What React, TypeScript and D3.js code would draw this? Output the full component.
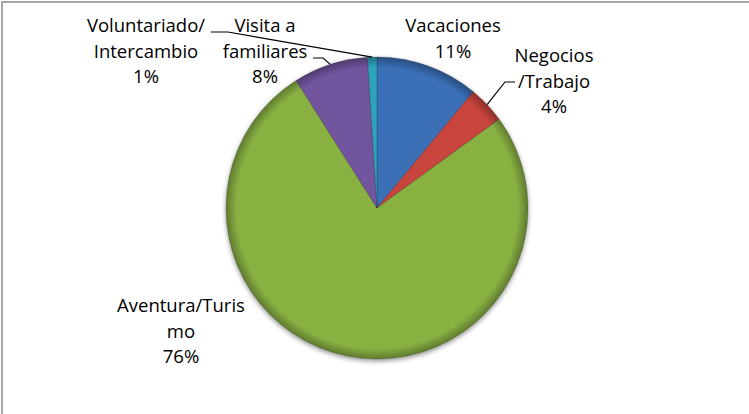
import React from 'react';
import * as d3 from 'd3';

// data
const categories = ['Vacaciones', 'Negocios /Trabajo', 'Aventura/Turismo', 'Visita a familiares', 'Voluntariado/ Intercambio'];
const values = [11, 4, 76, 8, 1];
const labelLines = [
  ['Vacaciones'],
  ['Negocios', '/Trabajo'],
  ['Aventura/Turis', 'mo'],
  ['Visita a', 'familiares'],
  ['Voluntariado/', 'Intercambio'],
];
const colors = ['#3a6fb6', '#c8443d', '#89b143', '#72559f', '#2fa3bd'];

const W = 749;
const H = 414;
const cx = 377;
const cy = 208;
const R = 151;
const lineH = 25.5;

// label layout: centre x and first baseline for each label block
const labelPos = [
  { x: 453, y: 32 },
  { x: 554, y: 62 },
  { x: 181, y: 312 },
  { x: 265, y: 32 },
  { x: 146, y: 32 },
];
// leader lines: [start of horizontal stub, elbow] (null = no leader)
const leaders: ([number, number][] | null)[] = [
  null,
  [[515, 82], [505, 82]],
  null,
  [[313, 58], [323, 58]],
  [[211, 32], [228, 32]],
];

const App = () => {
  const total = d3.sum(values);
  const pie = d3.pie<number>().sort(null).value(d => d);
  const arcs = pie(values);
  const arc = d3.arc<d3.PieArcDatum<number>>().innerRadius(0).outerRadius(R);

  const edgePoint = (a: d3.PieArcDatum<number>) => {
    const m = (a.startAngle + a.endAngle) / 2;
    return [cx + R * Math.sin(m), cy - R * Math.cos(m)];
  };

  return (
    <div style={{ position: 'absolute', left: 0, top: 0 }}>
      <svg width={W} height={H} style={{ display: 'block', fontFamily: "'Open Sans', sans-serif" }}>
        <defs>
          <radialGradient id="rim" cx="0.5" cy="0.5" r="0.5">
            <stop offset="0" stopColor="#000" stopOpacity={0} />
            <stop offset="0.93" stopColor="#000" stopOpacity={0} />
            <stop offset="1" stopColor="#000" stopOpacity={0.3} />
          </radialGradient>
          <filter id="shadow" x="-20%" y="-20%" width="140%" height="140%">
            <feGaussianBlur in="SourceAlpha" stdDeviation="2.5" />
            <feOffset dx="0" dy="2" result="b" />
            <feComponentTransfer><feFuncA type="linear" slope="0.45" /></feComponentTransfer>
            <feMerge><feMergeNode /><feMergeNode in="SourceGraphic" /></feMerge>
          </filter>
        </defs>
        <rect x={2} y={2} width={W + 10} height={H + 10} fill="#fff" stroke="#8a8a8a" strokeWidth={1.5} />

        <g transform={`translate(${cx},${cy})`} filter="url(#shadow)">
          {arcs.map((a, i) => (
            <path key={categories[i]} d={arc(a) || ''} fill={colors[i]} stroke="rgba(0,0,0,0.3)" strokeWidth={0.6} />
          ))}
          <circle r={R} fill="url(#rim)" />
        </g>

        {arcs.map((a, i) => {
          const l = leaders[i];
          if (!l) return null;
          const [ex, ey] = edgePoint(a);
          const pts = [...l, [ex, ey]];
          return <path key={'l' + i} d={d3.line()(pts as [number, number][]) || ''} fill="none" stroke="#000" strokeWidth={1.2} />;
        })}

        {labelLines.map((lines, i) => {
          const pct = Math.round((values[i] / total) * 100) + '%';
          return (
            <text key={'t' + i} x={labelPos[i].x} y={labelPos[i].y} textAnchor="middle" fontSize={18.5} fill="#000">
              {[...lines, pct].map((s, j) => (
                <tspan key={j} x={labelPos[i].x} dy={j === 0 ? 0 : lineH}>{s}</tspan>
              ))}
            </text>
          );
        })}
      </svg>
    </div>
  );
};

export default App;
